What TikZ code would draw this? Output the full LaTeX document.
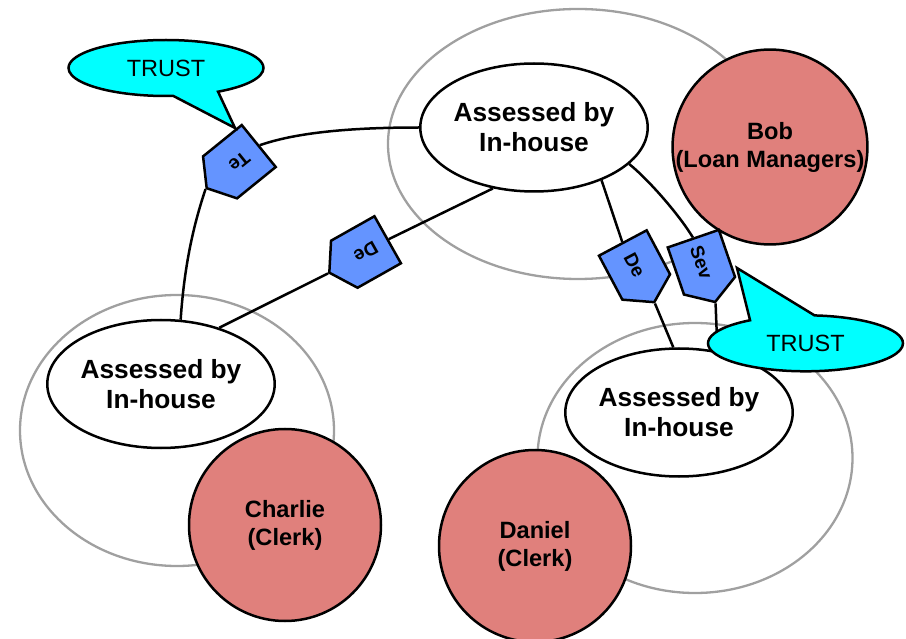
\documentclass[tikz,border=0pt]{standalone}
\usepackage{fontspec}
\setmainfont{Liberation Sans}
\usetikzlibrary{shapes.geometric,shapes.symbols,shapes.callouts}
\definecolor{rednode}{RGB}{224,128,124}
\definecolor{bluetag}{RGB}{100,148,255}
\definecolor{ringgray}{RGB}{160,160,160}
\definecolor{bubble}{RGB}{0,255,255}
\begin{document}
\begin{tikzpicture}[x=1pt,y=-1pt,
  ring/.style={ellipse, draw=ringgray, line width=2.3pt, inner sep=0pt},
  assess/.style={ellipse, draw, fill=white, line width=2.5pt, minimum width=225pt, minimum height=128pt, inner sep=0pt, align=center, font=\fontsize{26.3}{30}\selectfont\bfseries},
  person/.style={circle, draw, fill=rednode, line width=2.5pt, minimum size=192pt, inner sep=0pt, align=center, font=\fontsize{23.6}{28}\selectfont\bfseries},
  tagbox/.style={signal, signal to=east, signal pointer angle=115, draw, fill=bluetag, line width=2.5pt, minimum width=67pt, minimum height=54pt, inner sep=0pt, font=\fontsize{19}{21}\selectfont\bfseries},
  trust/.style={ellipse callout, draw, fill=bubble, line width=2.5pt, minimum width=195pt, minimum height=56pt, inner sep=0pt, font=\fontsize{23.5}{28}\selectfont},
  link/.style={line width=2.5pt}
]
\useasboundingbox (0,0) rectangle (906,639);
% grey groups
\node[ring, minimum width=380pt, minimum height=270pt] (gT) at (578,144) {};
\node[ring, minimum width=314pt, minimum height=271pt] (gL) at (177,430.5) {};
\node[ring, minimum width=315pt, minimum height=270pt] (gR) at (695,458) {};
% assessed ellipses
\node[assess] (T) at (534,127.5) {Assessed by\\In-house};
\node[assess] (L) at (161,384) {Assessed by\\In-house};
\node[assess] (R) at (679,412.5) {Assessed by\\In-house};
% persons
\node[person] (bob) at (770,147) {Bob\\(Loan Managers)};
\node[person] (charlie) at (285,525) {Charlie\\(Clerk)};
\node[person] (daniel) at (535,546) {Daniel\\(Clerk)};
% tags
\node[tagbox, rotate=219] (te) at (239.4,161.7) {Te};
\node[tagbox, rotate=209.4] (del) at (366,252) {De};
\node[tagbox, rotate=-62] (der) at (634.5,265) {De};
\node[tagbox, rotate=-71] (sev) at (701.4,262.2) {Sev};
% connectors
\draw[link] (L.73) .. controls +(4,-60) and +(-10,30) .. (te.east);
\draw[link] (te.west) .. controls +(40,-14) and +(-60,0) .. (T.180);
\draw[link] (L.44) -- (del.east);
\draw[link] (del.west) -- (T.236);
\draw[link] (T.-38) -- (der.west);
\draw[link] (der.east) -- (R.95);
\draw[link] (T.-21) .. controls +(22,18) and +(-12,-20) .. (sev.west);
\draw[link] (sev.east) -- (R.58);
% callouts
\node[trust, callout absolute pointer={(235,128)}, callout pointer arc=28] (tr1) at (166,68) {TRUST};
\node[trust, callout absolute pointer={(737,268)}, callout pointer arc=40] (tr2) at (805.5,343.3) {TRUST};
\end{tikzpicture}
\end{document}
